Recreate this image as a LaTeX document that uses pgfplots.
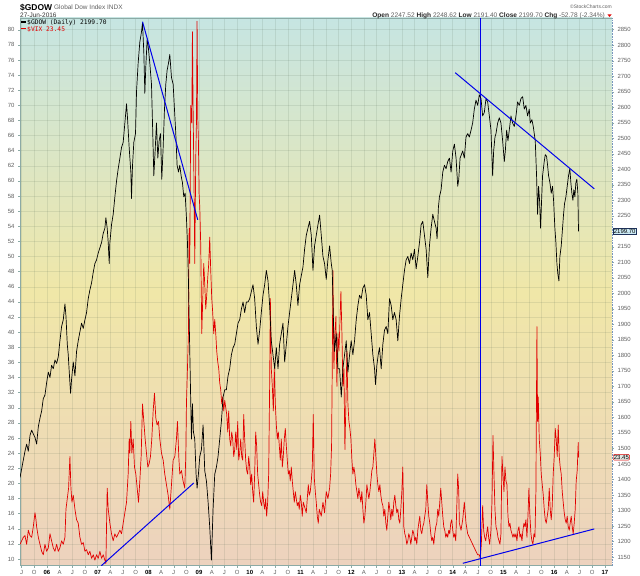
\documentclass[border=0pt]{standalone}
\usepackage{fontspec}
\setmainfont{Liberation Sans}
\newfontfamily\legf{DejaVu Sans Mono}
\usepackage{pgfplots}
\pgfplotsset{compat=1.18}
\definecolor{bgtop}{RGB}{198,229,226}
\definecolor{bgmid}{RGB}{240,231,168}
\definecolor{bgbot}{RGB}{237,210,190}
\definecolor{gridc}{RGB}{80,100,80}
\definecolor{framec}{RGB}{140,170,165}
\definecolor{lblc}{RGB}{95,95,95}
\definecolor{vixred}{RGB}{225,0,0}
\definecolor{tlblue}{RGB}{0,0,235}
\definecolor{boxfill}{RGB}{205,235,245}
\definecolor{boxdraw}{RGB}{30,50,90}
\definecolor{rightax}{RGB}{120,150,190}
\definecolor{vixbox}{RGB}{225,232,228}
\pgfplotsset{
  base/.style={
    at={(20bp,10.3bp)}, anchor=south west, scale only axis,
    width=592bp, height=547.7bp,
    xmin=2005.47, xmax=2017.14,
    tick label style={font=\fontsize{6}{7}\selectfont, text=lblc},
    /pgf/number format/assume math mode=true,
    /pgf/number format/1000 sep={},
    tick align=outside, major tick length=2bp,
    tick style={draw=framec, line width=0.4pt},
  }
}
\begin{document}
\begin{tikzpicture}
\useasboundingbox (0,0) rectangle (640bp,576bp);
% ---------------- VIX (left axis) ----------------
\begin{axis}[base,
  ymin=9.11, ymax=81.55,
  axis x line*=box, axis y line*=left,
  axis line style={draw=framec, line width=0.6pt},
  axis background/.style={top color=bgtop, bottom color=bgbot, middle color=bgmid},
  grid=major, major grid style={draw=gridc, draw opacity=0.13, line width=0.5pt},
  xtick pos=left,
  xtick={2005.5,2005.75,2006,2006.25,2006.5,2006.75,2007,2007.25,2007.5,2007.75,2008,2008.25,2008.5,2008.75,2009,2009.25,2009.5,2009.75,2010,2010.25,2010.5,2010.75,2011,2011.25,2011.5,2011.75,2012,2012.25,2012.5,2012.75,2013,2013.25,2013.5,2013.75,2014,2014.25,2014.5,2014.75,2015,2015.25,2015.5,2015.75,2016,2016.25,2016.5,2016.75,2017},
  xticklabels={J,O,\textbf{\color{black}06},A,J,O,\textbf{\color{black}07},A,J,O,\textbf{\color{black}08},A,J,O,\textbf{\color{black}09},A,J,O,\textbf{\color{black}10},A,J,O,\textbf{\color{black}11},A,J,O,\textbf{\color{black}12},A,J,O,\textbf{\color{black}13},A,J,O,\textbf{\color{black}14},A,J,O,\textbf{\color{black}15},A,J,O,\textbf{\color{black}16},A,J,O,\textbf{\color{black}17}},
  ytick={10,12,...,80},
  xticklabel style={yshift=1bp},
]
\addplot[vixred, line width=0.7pt, line join=round] coordinates {
(2005.470,11.94) (2005.503,12.40) (2005.536,12.87) (2005.568,13.10) (2005.601,11.94) (2005.634,13.80) (2005.667,13.10) (2005.700,12.87) (2005.732,14.26) (2005.765,16.12) (2005.785,15.19) (2005.798,14.26) (2005.831,12.87) (2005.864,11.94) (2005.897,11.01) (2005.929,10.55) (2005.962,11.94) (2005.995,11.01) (2006.028,11.47) (2006.061,13.33) (2006.093,12.40) (2006.126,11.47) (2006.159,11.01) (2006.192,11.94) (2006.225,11.01) (2006.257,11.47) (2006.290,12.40) (2006.323,11.94) (2006.356,12.87) (2006.376,16.58) (2006.402,17.98) (2006.428,19.37) (2006.454,23.55) (2006.474,19.37) (2006.494,17.51) (2006.520,18.44) (2006.553,16.58) (2006.585,15.19) (2006.618,14.73) (2006.651,12.87) (2006.684,11.94) (2006.717,12.17) (2006.750,11.01) (2006.782,11.24) (2006.815,10.55) (2006.848,11.01) (2006.881,10.08) (2006.914,10.55) (2006.946,9.85) (2006.979,10.55) (2007.012,10.08) (2007.045,11.01) (2007.078,10.08) (2007.110,10.55) (2007.143,9.85) (2007.163,9.39) (2007.189,19.37) (2007.209,16.58) (2007.242,14.73) (2007.274,13.33) (2007.307,12.40) (2007.340,13.33) (2007.373,12.87) (2007.406,13.33) (2007.439,13.80) (2007.471,13.33) (2007.504,14.73) (2007.537,16.12) (2007.570,17.51) (2007.602,21.23) (2007.622,25.87) (2007.635,24.01) (2007.655,28.19) (2007.675,24.01) (2007.701,25.87) (2007.727,22.16) (2007.753,21.23) (2007.780,19.37) (2007.806,17.51) (2007.832,20.30) (2007.858,23.55) (2007.885,30.51) (2007.911,28.19) (2007.937,25.87) (2007.963,24.01) (2007.990,22.16) (2008.016,22.62) (2008.042,23.55) (2008.068,25.87) (2008.095,29.58) (2008.121,31.91) (2008.147,28.65) (2008.173,27.73) (2008.200,28.19) (2008.226,25.87) (2008.259,24.01) (2008.292,23.08) (2008.324,21.23) (2008.357,19.83) (2008.390,18.44) (2008.423,16.58) (2008.456,19.83) (2008.489,23.08) (2008.522,23.55) (2008.554,25.87) (2008.574,28.19) (2008.600,23.55) (2008.620,21.23) (2008.653,21.69) (2008.685,20.30) (2008.718,19.37) (2008.738,23.55) (2008.751,30.51) (2008.771,35.16) (2008.790,39.80) (2008.804,53.73) (2008.817,49.09) (2008.836,69.98) (2008.856,67.66) (2008.869,79.73) (2008.882,69.98) (2008.902,58.37) (2008.915,49.09) (2008.935,63.02) (2008.948,67.66) (2008.961,81.12) (2008.974,68.59) (2008.987,65.34) (2009.000,58.37) (2009.014,56.52) (2009.033,51.41) (2009.053,39.80) (2009.073,44.44) (2009.092,49.09) (2009.112,46.30) (2009.132,43.05) (2009.151,44.91) (2009.171,47.23) (2009.191,49.09) (2009.210,52.57) (2009.230,48.16) (2009.250,44.44) (2009.269,42.59) (2009.289,39.80) (2009.309,41.66) (2009.329,39.80) (2009.348,37.48) (2009.368,36.08) (2009.388,35.16) (2009.407,33.30) (2009.427,32.37) (2009.447,30.51) (2009.466,31.44) (2009.486,29.58) (2009.506,30.98) (2009.525,30.05) (2009.545,29.12) (2009.565,26.80) (2009.584,29.58) (2009.604,25.87) (2009.624,24.94) (2009.643,26.80) (2009.663,25.87) (2009.683,23.55) (2009.703,24.48) (2009.722,26.80) (2009.742,24.48) (2009.762,28.19) (2009.781,23.08) (2009.801,24.01) (2009.821,25.87) (2009.840,23.55) (2009.860,23.08) (2009.880,29.12) (2009.899,25.87) (2009.919,23.08) (2009.939,21.69) (2009.958,21.23) (2009.978,23.55) (2009.998,22.16) (2010.017,19.83) (2010.037,21.23) (2010.057,18.91) (2010.076,17.51) (2010.096,21.23) (2010.116,26.80) (2010.135,24.94) (2010.155,21.23) (2010.175,19.83) (2010.195,18.44) (2010.214,17.51) (2010.234,17.05) (2010.254,18.91) (2010.273,17.51) (2010.293,16.58) (2010.313,17.98) (2010.332,15.66) (2010.352,17.51) (2010.372,21.23) (2010.391,32.83) (2010.405,44.44) (2010.424,35.16) (2010.444,32.83) (2010.464,29.58) (2010.483,35.16) (2010.503,30.51) (2010.523,27.73) (2010.542,25.87) (2010.562,26.80) (2010.582,24.94) (2010.601,23.08) (2010.621,25.87) (2010.641,22.16) (2010.660,23.55) (2010.680,25.87) (2010.700,27.26) (2010.720,24.94) (2010.739,23.08) (2010.759,21.23) (2010.779,21.69) (2010.798,20.30) (2010.818,22.16) (2010.838,20.30) (2010.857,18.91) (2010.877,17.51) (2010.897,18.91) (2010.916,17.98) (2010.936,17.05) (2010.956,17.51) (2010.975,16.58) (2010.995,18.44) (2011.015,17.51) (2011.034,15.66) (2011.054,17.51) (2011.074,17.05) (2011.093,16.58) (2011.113,16.12) (2011.133,17.98) (2011.153,19.83) (2011.172,18.44) (2011.192,18.91) (2011.212,20.30) (2011.232,22.16) (2011.251,29.12) (2011.271,20.76) (2011.291,18.91) (2011.310,17.51) (2011.330,15.66) (2011.350,14.73) (2011.369,16.58) (2011.409,15.66) (2011.442,17.51) (2011.474,16.12) (2011.507,18.91) (2011.540,17.98) (2011.573,19.37) (2011.593,21.23) (2011.612,24.94) (2011.625,35.16) (2011.638,48.16) (2011.658,35.16) (2011.678,39.80) (2011.698,42.12) (2011.717,32.83) (2011.737,39.80) (2011.757,37.48) (2011.776,41.19) (2011.796,45.37) (2011.816,39.80) (2011.835,32.83) (2011.855,35.16) (2011.875,24.48) (2011.894,30.51) (2011.914,37.48) (2011.934,30.51) (2011.954,28.19) (2011.973,27.26) (2011.993,25.87) (2012.013,23.08) (2012.032,21.23) (2012.052,22.16) (2012.072,21.23) (2012.091,19.83) (2012.111,18.91) (2012.131,17.98) (2012.150,19.37) (2012.170,18.44) (2012.190,17.51) (2012.209,18.91) (2012.229,16.58) (2012.249,14.73) (2012.268,15.66) (2012.288,17.51) (2012.308,19.83) (2012.327,18.91) (2012.347,17.98) (2012.367,18.91) (2012.387,20.30) (2012.406,21.69) (2012.426,22.16) (2012.446,24.01) (2012.465,25.87) (2012.485,23.55) (2012.505,21.23) (2012.524,19.83) (2012.544,18.91) (2012.564,19.83) (2012.583,18.44) (2012.603,17.51) (2012.623,17.05) (2012.642,15.66) (2012.662,16.58) (2012.682,14.73) (2012.701,13.80) (2012.721,15.66) (2012.741,17.51) (2012.760,16.58) (2012.780,15.19) (2012.800,16.58) (2012.820,15.66) (2012.839,17.51) (2012.859,18.44) (2012.879,17.05) (2012.898,16.12) (2012.918,16.58) (2012.938,15.19) (2012.957,14.73) (2012.977,16.58) (2012.997,18.91) (2013.016,22.16) (2013.036,14.26) (2013.056,13.33) (2013.075,12.87) (2013.095,11.94) (2013.115,12.40) (2013.134,13.33) (2013.154,12.87) (2013.174,11.94) (2013.193,12.87) (2013.213,13.80) (2013.233,13.33) (2013.253,12.40) (2013.272,12.87) (2013.292,11.94) (2013.312,13.80) (2013.331,14.73) (2013.351,15.66) (2013.371,13.80) (2013.390,13.33) (2013.410,14.26) (2013.430,14.73) (2013.449,15.66) (2013.469,16.58) (2013.489,19.83) (2013.509,17.51) (2013.528,15.66) (2013.548,14.73) (2013.568,13.33) (2013.587,12.40) (2013.607,12.87) (2013.627,11.94) (2013.646,13.33) (2013.666,14.26) (2013.686,14.73) (2013.705,16.58) (2013.725,15.66) (2013.745,17.51) (2013.764,19.37) (2013.784,17.51) (2013.804,15.66) (2013.824,14.26) (2013.843,13.80) (2013.863,12.87) (2013.883,13.33) (2013.902,12.87) (2013.922,13.80) (2013.942,13.33) (2013.961,14.73) (2013.981,15.19) (2014.001,13.80) (2014.020,12.87) (2014.040,13.33) (2014.060,12.40) (2014.079,16.58) (2014.099,21.23) (2014.119,18.91) (2014.131,14.73) (2014.164,13.80) (2014.197,15.19) (2014.229,17.51) (2014.262,14.73) (2014.295,13.33) (2014.328,12.87) (2014.361,12.40) (2014.393,11.94) (2014.426,11.47) (2014.459,11.01) (2014.492,10.55) (2014.525,10.55) (2014.544,10.08) (2014.564,11.94) (2014.590,17.05) (2014.610,13.80) (2014.630,12.87) (2014.649,12.40) (2014.669,13.33) (2014.689,14.26) (2014.708,12.87) (2014.728,11.94) (2014.754,13.80) (2014.774,17.51) (2014.794,26.33) (2014.813,21.23) (2014.833,16.58) (2014.853,14.26) (2014.872,13.80) (2014.892,12.87) (2014.912,12.40) (2014.931,11.94) (2014.951,13.33) (2014.971,23.55) (2014.991,21.23) (2015.010,18.91) (2015.030,22.16) (2015.050,20.30) (2015.069,19.83) (2015.089,15.66) (2015.109,14.26) (2015.128,14.73) (2015.148,13.80) (2015.168,13.33) (2015.187,12.87) (2015.207,13.33) (2015.227,12.87) (2015.247,13.33) (2015.266,12.40) (2015.286,13.80) (2015.306,14.26) (2015.325,12.87) (2015.345,13.33) (2015.365,12.40) (2015.384,13.80) (2015.404,14.73) (2015.424,14.26) (2015.443,15.19) (2015.463,12.87) (2015.483,15.66) (2015.502,19.37) (2015.522,15.66) (2015.542,13.33) (2015.561,12.40) (2015.581,11.94) (2015.601,13.33) (2015.621,12.87) (2015.640,18.91) (2015.660,40.73) (2015.673,28.19) (2015.686,31.44) (2015.706,25.87) (2015.725,24.01) (2015.745,21.23) (2015.765,19.83) (2015.785,18.44) (2015.804,16.58) (2015.824,15.19) (2015.844,14.73) (2015.863,15.66) (2015.883,16.58) (2015.903,19.37) (2015.922,16.58) (2015.942,15.19) (2015.962,17.05) (2015.981,21.23) (2016.001,23.55) (2016.021,27.26) (2016.040,25.87) (2016.060,23.55) (2016.080,27.73) (2016.100,23.55) (2016.119,22.16) (2016.139,21.23) (2016.159,18.91) (2016.178,17.51) (2016.198,16.12) (2016.218,15.19) (2016.237,14.73) (2016.257,15.66) (2016.277,14.26) (2016.297,13.80) (2016.316,14.73) (2016.336,15.66) (2016.356,14.26) (2016.375,13.33) (2016.395,14.73) (2016.415,16.58) (2016.434,20.30) (2016.454,21.69) (2016.474,25.41) (2016.480,23.45)
};
% trend lines on the VIX scale
\addplot[tlblue, line width=1pt] coordinates {(2007.074,9.11) (2008.895,20.05)};
\addplot[tlblue, line width=1pt] coordinates {(2014.20,9.43) (2016.79,13.97)};
\addplot[tlblue, line width=1pt] coordinates {(2014.545,9.11) (2014.545,81.55)};
\end{axis}
% ---------------- GDOW (right axis) ----------------
\begin{axis}[base,
  ymin=1122, ymax=2887.7,
  axis x line=none, axis y line*=right,
  y axis line style={draw=rightax, densely dotted, line width=0.6pt},
  ytick={1150,1200,...,2150,2250,2300,...,2850},
  clip mode=individual,
]
\addplot[black, line width=0.7pt, line join=round] coordinates {
(2005.470,1406) (2005.522,1451) (2005.568,1491) (2005.601,1514) (2005.634,1491) (2005.667,1542) (2005.700,1559) (2005.732,1547) (2005.765,1536) (2005.798,1514) (2005.831,1570) (2005.864,1598) (2005.897,1621) (2005.929,1661) (2005.962,1672) (2005.995,1712) (2006.028,1746) (2006.061,1729) (2006.093,1768) (2006.126,1757) (2006.159,1785) (2006.192,1774) (2006.225,1796) (2006.257,1847) (2006.290,1893) (2006.323,1915) (2006.356,1966) (2006.376,1927) (2006.402,1836) (2006.421,1802) (2006.441,1746) (2006.467,1678) (2006.487,1723) (2006.520,1779) (2006.553,1734) (2006.585,1813) (2006.618,1847) (2006.651,1876) (2006.684,1904) (2006.717,1887) (2006.750,1915) (2006.782,1938) (2006.815,1983) (2006.848,2011) (2006.881,2034) (2006.914,2068) (2006.946,2096) (2006.979,2108) (2007.012,2130) (2007.045,2147) (2007.078,2164) (2007.110,2193) (2007.143,2210) (2007.163,2244) (2007.189,2210) (2007.209,2164) (2007.229,2096) (2007.242,2164) (2007.274,2221) (2007.307,2255) (2007.340,2311) (2007.373,2362) (2007.406,2402) (2007.439,2436) (2007.471,2470) (2007.504,2487) (2007.537,2549) (2007.570,2611) (2007.589,2566) (2007.622,2470) (2007.655,2391) (2007.668,2306) (2007.688,2413) (2007.714,2487) (2007.747,2515) (2007.767,2651) (2007.799,2742) (2007.832,2810) (2007.865,2843) (2007.885,2872) (2007.911,2776) (2007.931,2645) (2007.950,2730) (2007.977,2821) (2008.003,2787) (2008.029,2742) (2008.062,2674) (2008.082,2549) (2008.108,2379) (2008.134,2459) (2008.160,2549) (2008.187,2436) (2008.213,2492) (2008.239,2515) (2008.265,2368) (2008.292,2470) (2008.318,2594) (2008.344,2674) (2008.370,2719) (2008.397,2742) (2008.423,2770) (2008.456,2696) (2008.489,2674) (2008.515,2594) (2008.541,2515) (2008.567,2413) (2008.594,2391) (2008.620,2413) (2008.646,2379) (2008.672,2357) (2008.699,2311) (2008.725,2323) (2008.751,2244) (2008.771,2164) (2008.790,2045) (2008.810,1870) (2008.830,1700) (2008.850,1530) (2008.869,1644) (2008.889,1553) (2008.915,1530) (2008.941,1417) (2008.961,1372) (2008.987,1417) (2009.014,1474) (2009.046,1496) (2009.079,1576) (2009.112,1428) (2009.145,1395) (2009.178,1327) (2009.210,1247) (2009.243,1140) (2009.276,1304) (2009.309,1417) (2009.342,1440) (2009.374,1474) (2009.407,1530) (2009.440,1587) (2009.473,1666) (2009.506,1689) (2009.538,1689) (2009.571,1734) (2009.604,1757) (2009.637,1802) (2009.670,1825) (2009.703,1836) (2009.735,1870) (2009.768,1904) (2009.801,1915) (2009.834,1949) (2009.867,1972) (2009.899,1938) (2009.932,1972) (2009.965,1972) (2009.998,1983) (2010.031,2006) (2010.063,2028) (2010.096,1983) (2010.129,1893) (2010.162,1836) (2010.195,1881) (2010.227,1938) (2010.260,1994) (2010.293,2028) (2010.326,2074) (2010.359,2040) (2010.391,1961) (2010.424,1847) (2010.457,1802) (2010.490,1757) (2010.523,1825) (2010.556,1757) (2010.588,1836) (2010.621,1870) (2010.654,1904) (2010.687,1779) (2010.720,1836) (2010.752,1893) (2010.785,1938) (2010.818,1983) (2010.851,2028) (2010.884,2074) (2010.916,2028) (2010.949,1961) (2010.982,2028) (2011.015,2057) (2011.048,2085) (2011.080,2142) (2011.113,2187) (2011.146,2210) (2011.179,2232) (2011.212,2187) (2011.245,2074) (2011.277,2153) (2011.310,2187) (2011.343,2221) (2011.376,2252) (2011.409,2187) (2011.442,2119) (2011.474,2096) (2011.507,2045) (2011.540,2108) (2011.573,2153) (2011.606,2096) (2011.625,2074) (2011.652,1893) (2011.671,1813) (2011.704,1870) (2011.737,1757) (2011.770,1757) (2011.803,1666) (2011.835,1757) (2011.868,1802) (2011.901,1847) (2011.934,1746) (2011.967,1802) (2011.999,1847) (2012.032,1802) (2012.065,1847) (2012.098,1915) (2012.131,1961) (2012.163,1994) (2012.196,1983) (2012.229,2017) (2012.262,2028) (2012.295,1994) (2012.327,1915) (2012.360,1938) (2012.393,1870) (2012.426,1802) (2012.459,1757) (2012.478,1706) (2012.505,1768) (2012.531,1802) (2012.557,1825) (2012.590,1757) (2012.623,1836) (2012.655,1881) (2012.688,1893) (2012.721,1870) (2012.754,1983) (2012.787,1961) (2012.819,1915) (2012.852,1938) (2012.885,1915) (2012.918,1847) (2012.951,1927) (2012.984,1983) (2013.016,2028) (2013.049,2074) (2013.082,2108) (2013.115,2119) (2013.148,2096) (2013.180,2130) (2013.213,2108) (2013.246,2142) (2013.279,2079) (2013.312,2119) (2013.345,2164) (2013.377,2221) (2013.410,2232) (2013.443,2187) (2013.476,2142) (2013.509,2051) (2013.541,2153) (2013.574,2210) (2013.607,2255) (2013.640,2232) (2013.673,2210) (2013.692,2176) (2013.718,2277) (2013.738,2311) (2013.771,2334) (2013.804,2391) (2013.837,2413) (2013.869,2402) (2013.902,2425) (2013.935,2436) (2013.968,2391) (2014.001,2459) (2014.033,2481) (2014.066,2436) (2014.099,2345) (2014.119,2368) (2014.145,2436) (2014.197,2459) (2014.229,2436) (2014.262,2504) (2014.295,2515) (2014.328,2504) (2014.361,2526) (2014.393,2549) (2014.426,2594) (2014.459,2623) (2014.492,2606) (2014.525,2640) (2014.558,2628) (2014.590,2572) (2014.623,2583) (2014.656,2628) (2014.689,2617) (2014.722,2572) (2014.754,2526) (2014.787,2379) (2014.807,2459) (2014.833,2504) (2014.853,2515) (2014.886,2549) (2014.918,2566) (2014.951,2549) (2014.984,2492) (2015.017,2425) (2015.037,2459) (2015.063,2526) (2015.089,2492) (2015.115,2526) (2015.148,2572) (2015.181,2549) (2015.214,2538) (2015.247,2572) (2015.279,2617) (2015.312,2606) (2015.345,2628) (2015.378,2634) (2015.411,2594) (2015.443,2606) (2015.476,2572) (2015.509,2594) (2015.529,2549) (2015.561,2560) (2015.588,2538) (2015.607,2515) (2015.627,2492) (2015.653,2379) (2015.673,2255) (2015.693,2345) (2015.712,2300) (2015.732,2210) (2015.752,2300) (2015.771,2379) (2015.804,2425) (2015.824,2447) (2015.850,2442) (2015.870,2413) (2015.890,2379) (2015.916,2357) (2015.942,2323) (2015.968,2345) (2015.988,2300) (2016.014,2210) (2016.034,2164) (2016.054,2096) (2016.073,2062) (2016.093,2040) (2016.113,2119) (2016.139,2153) (2016.165,2210) (2016.185,2255) (2016.204,2289) (2016.231,2311) (2016.257,2345) (2016.283,2379) (2016.309,2402) (2016.329,2357) (2016.349,2323) (2016.369,2300) (2016.388,2334) (2016.408,2311) (2016.428,2357) (2016.447,2368) (2016.467,2323) (2016.480,2199.7)
};
% trend lines on the GDOW scale
\addplot[tlblue, line width=1pt] coordinates {(2007.885,2875.8) (2008.974,2237)};
\addplot[tlblue, line width=1pt] coordinates {(2014.05,2711.3) (2016.79,2337)};
% last-value boxes
\node[anchor=west, draw=boxdraw, fill=boxfill, inner sep=0.7pt, font=\fontsize{6}{7}\selectfont, xshift=1bp] at (axis cs:2017.14,2199.7) {2199.70};
\node[anchor=west, draw=vixred, rounded corners=1pt, fill=vixbox, inner sep=0.7pt, font=\fontsize{6}{7}\selectfont, xshift=1bp] at (rel axis cs:1,0.198) {23.45};
\end{axis}
% ---------------- header texts ----------------
\node[anchor=base west, inner sep=0, font=\fontsize{8.5}{10}\selectfont\bfseries] at (20bp,565.5bp) {\$GDOW};
\node[anchor=base west, inner sep=0, text=lblc, font=\fontsize{6.5}{8}\selectfont] at (54bp,566bp) {Global Dow Index INDX};
\node[anchor=base west, inner sep=0, text=black!80, font=\fontsize{6.5}{8}\selectfont] at (20bp,558.5bp) {27-Jun-2016};
\node[anchor=base east, inner sep=0, text=lblc, font=\fontsize{5}{6}\selectfont] at (612bp,567.5bp) {\textcopyright StockCharts.com};
\node[anchor=base east, inner sep=0, text=lblc, font=\fontsize{6.6}{8}\selectfont] at (605bp,558.5bp) {\textbf{\color{black!85}Open} 2247.52 \textbf{\color{black!85}High} 2248.62 \textbf{\color{black!85}Low} 2191.40 \textbf{\color{black!85}Close} 2199.70 \textbf{\color{black!85}Chg} -52.78 (-2.34\%)};
\fill[vixred] (607.5bp,561.5bp) -- (611.5bp,561.5bp) -- (609.5bp,559bp) -- cycle;
% ---------------- legend ----------------
\node[anchor=west, inner sep=0, font=\legf\fontsize{6.3}{7}\selectfont] at (21bp,553.3bp) {\rule[0.28em]{5bp}{1.2bp}\,\$GDOW (Daily) 2199.70};
\node[anchor=west, inner sep=0, text=vixred, font=\legf\fontsize{6.3}{7}\selectfont] at (21bp,546.8bp) {\rule[0.28em]{5bp}{1.2bp}\,\$VIX 23.45};
\end{tikzpicture}
\end{document}
